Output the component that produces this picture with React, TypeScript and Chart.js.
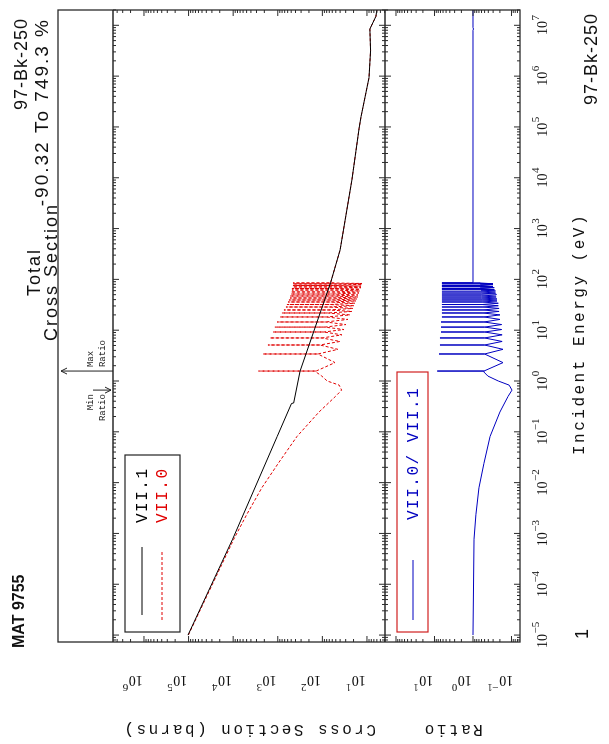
import { useEffect, useRef } from 'react';
import { Chart, registerables } from 'chart.js';
Chart.register(...registerables);

// ---------- data (energies in eV, cross sections in barns) ----------
const energyDecades = [-5, -4, -3, -2, -1, 0, 1, 2, 3, 4, 5, 6, 7];
const xsDecades = [6, 5, 4, 3, 2, 1];
const ratioDecades = [1, 0, -1];

const vii1Energy = [1e-5, 7.7e-4, 0.081, 0.361, 0.369, 1.57, 87.5, 380, 9200, 9.4e4, 1.58e5, 9.3e5, 3.15e6, 8.45e6, 1.5e7, 2e7];
const vii1Barns = [1.03e5, 1.03e4, 1030, 492, 440, 316, 65, 40, 21.7, 15, 13.6, 9.0, 8.3, 8.6, 6.3, 6.0];

const lowEnergy = [1e-5, 7.7e-4, 2.33e-3, 7.9e-3, 0.0239, 0.081, 0.245, 0.496, 0.662, 0.83, 1.0, 1.25, 1.5];
const vii0LowBarns = [1.01e5, 9.7e3, 5.0e3, 2.28e3, 978, 371, 119, 51, 37, 42, 78, 103, 138];
const ratioLow = [1.0, 0.94, 0.84, 0.70, 0.52, 0.36, 0.20, 0.123, 0.097, 0.115, 0.22, 0.41, 0.52];

const resEnergy = [1.57, 3.40, 5.11, 7.03, 9.21, 11.5, 14.5, 18.2, 21.8, 25.0, 28.6, 32.0, 35.9, 39.3, 43.0, 47.1, 51.5, 56.5, 61.8, 66.2, 71.0, 75.9, 81.3, 84.9];
const vii0ResPeak = [2700, 2150, 1660, 1500, 1280, 1160, 1040, 893, 805, 727, 655, 622, 590, 561, 532, 532, 506, 506, 481, 481, 456, 456, 456, 456];
const vii0ResWing = [138, 126, 113, 101, 92, 88, 84, 80, 76, 73, 69, 66, 66, 63, 63, 60, 60, 60, 58, 58, 58, 56, 56, 56];
const troughEnergy = [2.3, 4.2, 6.0, 8.1, 10.3, 12.9, 16.3, 20.0, 23.4, 26.8, 30.3, 33.9, 37.6, 41.1, 45.0, 49.3, 54.0, 59.1, 64.0, 68.6, 73.4, 78.6, 83.1];
const vii0Trough = [52, 44.7, 40.3, 36.4, 32.8, 29.6, 26.7, 24.1, 21.7, 20.6, 19.6, 18.6, 17.6, 16.8, 15.9, 15.9, 15.1, 14.4, 14.4, 13.6, 13.6, 12.9, 12.9];
const ratioResPeak = [8.49, 7.63, 7.2, 7.2, 6.77, 6.77, 6.77, 6.4, 6.4, 6.4, 6.4, 6.4, 6.4, 6.4, 6.4, 6.4, 6.4, 6.4, 6.4, 6.4, 6.4, 6.4, 6.4, 6.4];
const ratioResWing = [0.52, 0.5, 0.5, 0.5, 0.5, 0.5, 0.52, 0.52, 0.55, 0.55, 0.55, 0.58, 0.58, 0.58, 0.6, 0.6, 0.6, 0.62, 0.62, 0.62, 0.65, 0.65, 0.65, 0.65];
const ratioTrough = [0.166, 0.166, 0.175, 0.175, 0.18, 0.18, 0.199, 0.199, 0.21, 0.21, 0.22, 0.22, 0.238, 0.238, 0.25, 0.25, 0.26, 0.26, 0.28, 0.28, 0.302, 0.302, 0.302];

const vii0HighEnergy = [87.5, 380, 9200, 9.4e4, 1.58e5, 9.3e5, 3.15e6, 8.45e6, 1.5e7, 2e7];
const vii0HighBarns = [65, 40, 21.7, 15, 13.6, 9.0, 8.3, 8.6, 6.3, 6.0];
const ratioHighEnergy = [87.5, 8.0e6, 8.45e6, 9.0e6, 2e7];
const ratioHigh = [1.0, 1.0, 0.97, 1.0, 1.0];

const minRatioEnergy = 0.662;
const maxRatioEnergy = 1.57;

// ---------- helpers ----------
type Pt = { x: number; y: number };
function pts(e: number[], v: number[]): Pt[] {
  return e.map((x, i) => ({ x, y: v[i] }));
}
function resonanceSeries(lowV: number[], peak: number[], wing: number[], tr: number[], hiE: number[], hiV: number[]): Pt[] {
  const out = pts(lowEnergy, lowV);
  resEnergy.forEach((e, i) => {
    out.push({ x: e, y: wing[i] });
    out.push({ x: e, y: peak[i] });
    out.push({ x: e, y: wing[i] });
    if (i < troughEnergy.length) out.push({ x: troughEnergy[i], y: tr[i] });
  });
  return out.concat(pts(hiE, hiV));
}

const CW = 744;
const CH = 609;
const E_MIN = 7.3e-6;
const E_MAX = 2e7;

function drawPow(ctx: CanvasRenderingContext2D, exp: number, cx: number, cy: number, color: string) {
  const baseFont = '14px "Liberation Serif", serif';
  const expFont = '11px "Liberation Serif", serif';
  const es = exp < 0 ? '\u2212' + Math.abs(exp) : String(exp);
  ctx.font = baseFont;
  const wb = ctx.measureText('10').width;
  ctx.font = expFont;
  const we = ctx.measureText(es).width;
  const x0 = cx - (wb + we) / 2;
  ctx.fillStyle = color;
  ctx.textAlign = 'left';
  ctx.textBaseline = 'middle';
  ctx.font = baseFont;
  ctx.fillText('10', x0, cy + 2);
  ctx.font = expFont;
  ctx.fillText(es, x0 + wb + 0.5, cy - 5);
}

function line(ctx: CanvasRenderingContext2D, x1: number, y1: number, x2: number, y2: number) {
  ctx.beginPath();
  ctx.moveTo(x1, y1);
  ctx.lineTo(x2, y2);
  ctx.stroke();
}

const decorPlugin = {
  id: 'decor',
  afterDraw(chart: any) {
    const ctx: CanvasRenderingContext2D = chart.ctx;
    const xs = chart.scales.x;
    const ys = chart.scales.yXS;
    const yr = chart.scales.yR;
    const yst = chart.scales.yStrip;
    const L = chart.chartArea.left;
    const R = chart.chartArea.right;
    const T = yst.top;
    const B1 = ys.top;
    const B2 = ys.bottom;
    const B3 = yr.bottom;
    const C = (L + R) / 2;
    ctx.save();
    ctx.strokeStyle = '#2a2a2a';
    ctx.lineWidth = 1.3;
    ctx.strokeRect(L, T, R - L, B3 - T);
    line(ctx, L, B1, R, B1);
    line(ctx, L, B2, R, B2);

    // energy ticks
    ctx.lineWidth = 1;
    for (let d = -6; d <= 7; d++) {
      for (let m = 1; m <= 9; m++) {
        const e = m * Math.pow(10, d);
        if (e < E_MIN * 1.01 || e > E_MAX * 1.001) continue;
        const px = xs.getPixelForValue(e);
        const len = m === 1 ? 6 : 3;
        line(ctx, px, B1, px, B1 + len);
        line(ctx, px, B2 - len, px, B2 + len);
        line(ctx, px, B3, px, B3 - len);
      }
    }
    // y ticks (cross section & ratio)
    const yTicks = (scale: any) => {
      const lo = Math.floor(Math.log10(scale.min));
      const hi = Math.ceil(Math.log10(scale.max));
      for (let d = lo; d <= hi; d++) {
        for (let m = 1; m <= 9; m++) {
          const v = m * Math.pow(10, d);
          if (v < scale.min || v > scale.max) continue;
          const py = scale.getPixelForValue(v);
          const len = m === 1 ? 6 : 3;
          line(ctx, L, py, L + len, py);
          line(ctx, R, py, R - len, py);
        }
      }
    };
    yTicks(ys);
    yTicks(yr);

    // energy tick labels
    for (const d of energyDecades) {
      drawPow(ctx, d, xs.getPixelForValue(Math.pow(10, d)), B3 + 21, '#111');
    }
    // y tick labels (rotated)
    const yLabels = (scale: any, decs: number[]) => {
      for (const d of decs) {
        const py = scale.getPixelForValue(Math.pow(10, d));
        ctx.save();
        ctx.translate(L - 40, py - 11);
        ctx.rotate(-Math.PI / 2);
        drawPow(ctx, d, 0, 0, '#111');
        ctx.restore();
      }
    };
    yLabels(ys, xsDecades);
    yLabels(yr, ratioDecades);

    // axis titles
    ctx.fillStyle = '#111';
    ctx.font = '16px "Liberation Mono", monospace';
    (ctx as any).letterSpacing = '2.5px';
    ctx.textAlign = 'center';
    ctx.textBaseline = 'middle';
    const yTitle = (text: string, cy: number) => {
      ctx.save();
      ctx.translate(L - 87, cy);
      ctx.rotate(-Math.PI / 2);
      ctx.fillText(text, 0, 0);
      ctx.restore();
    };
    yTitle('Cross Section (barns)', (B1 + B2) / 2);
    yTitle('Ratio', (B2 + B3) / 2);
    ctx.fillText('Incident Energy (eV)', C - 8, B3 + 60);
    (ctx as any).letterSpacing = '0px';

    // corner notes
    ctx.font = '18px "Liberation Sans", sans-serif';
    (ctx as any).letterSpacing = '1px';
    ctx.textAlign = 'right';
    ctx.fillText('97-Bk-250', R - 3, B3 + 72);
    ctx.textAlign = 'left';
    ctx.fillText('1', L + 3, B3 + 63);

    // header
    ctx.textAlign = 'right';
    ctx.fillText('97-Bk-250', R - 8, T - 36);
    ctx.font = '19px "Liberation Sans", sans-serif';
    (ctx as any).letterSpacing = '2px';
    ctx.fillText('-90.32 To 749.3 %', R - 8, T - 15);
    ctx.textAlign = 'center';
    ctx.font = '18px "Liberation Sans", sans-serif';
    ctx.fillText('Total', C + 54, T - 23);
    ctx.fillText('Cross Section', C + 54, T - 6);
    (ctx as any).letterSpacing = '0px';
    ctx.textAlign = 'left';
    ctx.font = 'bold 16px "Liberation Sans", sans-serif';
    ctx.fillText('MAT 9755', L - 6, T - 38);

    // min / max ratio markers in top strip
    ctx.strokeStyle = '#222';
    ctx.lineWidth = 1;
    const pMax = xs.getPixelForValue(maxRatioEnergy);
    const pMin = xs.getPixelForValue(minRatioEnergy);
    line(ctx, pMax, B1, pMax, T + 3);
    line(ctx, pMax - 3, T + 9, pMax, T + 3);
    line(ctx, pMax + 3, T + 9, pMax, T + 3);
    line(ctx, pMin, B1 - 20, pMin, B1 - 2);
    line(ctx, pMin - 3, B1 - 8, pMin, B1 - 2);
    line(ctx, pMin + 3, B1 - 8, pMin, B1 - 2);
    ctx.font = '9px "Liberation Mono", monospace';
    ctx.fillStyle = '#222';
    ctx.textAlign = 'left';
    ctx.fillText('Max', pMax + 4, B1 - 22);
    ctx.fillText('Ratio', pMax + 4, B1 - 10);
    ctx.textAlign = 'right';
    ctx.fillText('Min', pMin - 4, B1 - 22);
    ctx.fillText('Ratio', pMin - 4, B1 - 10);

    // legend 1 (cross sections)
    ctx.strokeStyle = '#222';
    ctx.lineWidth = 1.2;
    ctx.strokeRect(L + 10, B1 + 12, 177, 55);
    ctx.lineWidth = 1;
    ctx.strokeStyle = '#000';
    line(ctx, L + 27, B1 + 29, L + 95, B1 + 29);
    ctx.strokeStyle = '#e00000';
    ctx.setLineDash([3, 2]);
    line(ctx, L + 22, B1 + 49, L + 92, B1 + 49);
    ctx.setLineDash([]);
    ctx.font = '16px "Liberation Mono", monospace';
    (ctx as any).letterSpacing = '1.5px';
    ctx.textAlign = 'left';
    ctx.fillStyle = '#000';
    ctx.fillText('VII.1', L + 119, B1 + 30);
    ctx.fillStyle = '#e00000';
    ctx.fillText('VII.0', L + 119, B1 + 50);

    // legend 2 (ratio)
    ctx.strokeStyle = '#d02020';
    ctx.lineWidth = 1.2;
    ctx.strokeRect(L + 10, B2 + 12, 260, 31);
    ctx.strokeStyle = '#0000c0';
    ctx.lineWidth = 1;
    line(ctx, L + 22, B2 + 28, L + 82, B2 + 28);
    ctx.fillStyle = '#0000c0';
    ctx.fillText('VII.0/ VII.1', L + 122, B2 + 29);
    (ctx as any).letterSpacing = '0px';
    ctx.restore();
  },
};

export default function App() {
  const ref = useRef<HTMLCanvasElement | null>(null);
  useEffect(() => {
    const canvas = ref.current;
    if (!canvas) return;
    const vii1 = pts(vii1Energy, vii1Barns);
    const vii0 = resonanceSeries(vii0LowBarns, vii0ResPeak, vii0ResWing, vii0Trough, vii0HighEnergy, vii0HighBarns);
    const ratio = resonanceSeries(ratioLow, ratioResPeak, ratioResWing, ratioTrough, ratioHighEnergy, ratioHigh);
    const hidden = {
      ticks: { display: false },
      grid: { display: false },
      border: { display: false },
    };
    const chart = new Chart(canvas, {
      type: 'line',
      data: {
        datasets: [
          { label: 'VII.1', data: vii1, yAxisID: 'yXS', borderColor: '#000', borderWidth: 1, pointRadius: 0, tension: 0 },
          { label: 'VII.0', data: vii0, yAxisID: 'yXS', borderColor: '#e00000', borderWidth: 1, borderDash: [3, 2], pointRadius: 0, tension: 0 },
          { label: 'VII.0/ VII.1', data: ratio, yAxisID: 'yR', borderColor: '#0000c0', borderWidth: 1, pointRadius: 0, tension: 0 },
        ],
      },
      options: {
        responsive: false,
        devicePixelRatio: 1,
        animation: false,
        events: [],
        layout: { padding: { left: 102, right: 10, top: 58, bottom: 89 } },
        plugins: { legend: { display: false }, tooltip: { enabled: false } },
        scales: {
          x: { type: 'logarithmic', min: E_MIN, max: E_MAX, ...hidden, afterFit: (s: any) => { s.height = 0; } },
          yR: { type: 'logarithmic', min: 0.0601, max: 193, position: 'left', stack: 'v', stackWeight: 135, ...hidden, afterFit: (s: any) => { s.width = 0; } },
          yXS: { type: 'logarithmic', min: 3.94, max: 4.95e6, position: 'left', stack: 'v', stackWeight: 272, ...hidden, afterFit: (s: any) => { s.width = 0; } },
          yStrip: { type: 'linear', min: 0, max: 1, position: 'left', stack: 'v', stackWeight: 55, ...hidden, afterFit: (s: any) => { s.width = 0; } },
        },
      } as any,
      plugins: [decorPlugin],
    });
    return () => chart.destroy();
  }, []);
  return (
    <div style={{ position: 'fixed', left: 0, top: 0, width: 609, height: 744, overflow: 'hidden', background: '#fff' }}>
      <canvas
        ref={ref}
        width={CW}
        height={CH}
        style={{ position: 'absolute', left: 0, top: 0, width: CW, height: CH, transformOrigin: '0 0', transform: `translate(0px, ${CW}px) rotate(-90deg)` }}
      />
    </div>
  );
}
